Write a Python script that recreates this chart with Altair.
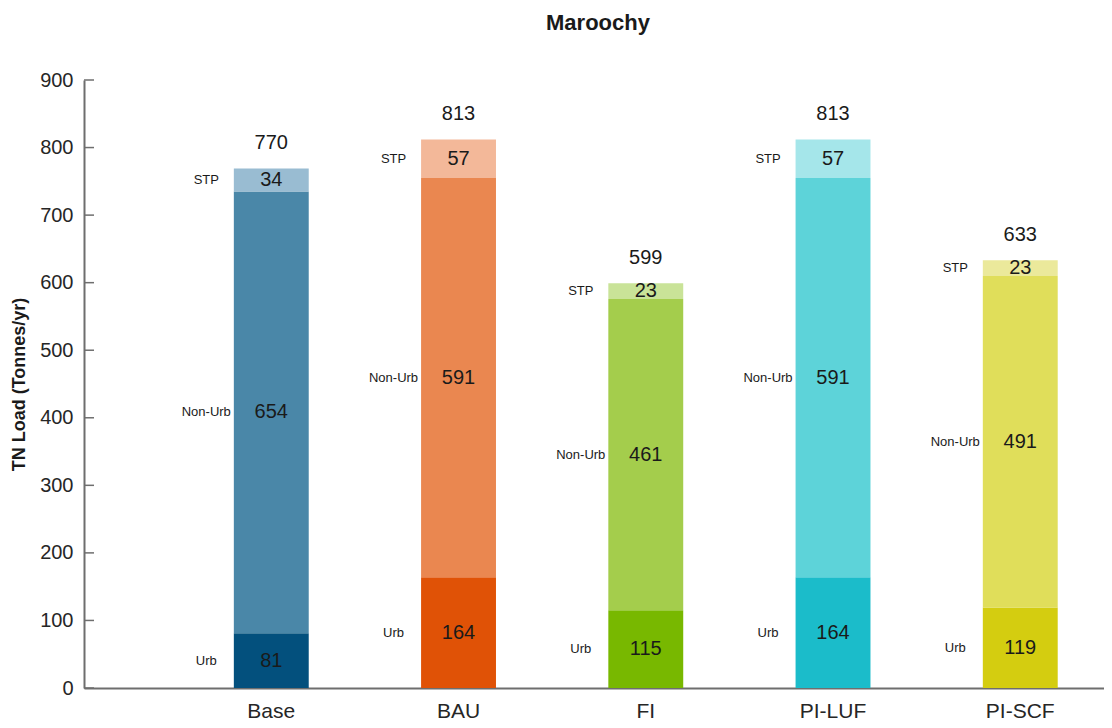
import altair as alt
import pandas as pd

# ---- data ----
scenarios = ["Base", "BAU", "FI", "PI-LUF", "PI-SCF"]
components = ["Urb", "Non-Urb", "STP"]
urb = [81, 164, 115, 164, 119]
non_urb = [654, 591, 461, 591, 491]
stp = [34, 57, 23, 57, 23]
totals = [770, 813, 599, 813, 633]
y_ticks = [0, 100, 200, 300, 400, 500, 600, 700, 800, 900]

# ---- colours (Urb, Non-Urb, STP) per scenario ----
palette = {
    "Base": ["#03507d", "#4a87a8", "#99bcd2"],
    "BAU": ["#e05206", "#ea8750", "#f3b899"],
    "FI": ["#78b800", "#a4cd4c", "#c9e398"],
    "PI-LUF": ["#1bbcca", "#5dd3d9", "#a5e6ea"],
    "PI-SCF": ["#d4cd10", "#e0de5a", "#ebe99b"],
}

rows = []
for i, s in enumerate(scenarios):
    base = 0
    for comp, vals in zip(components, [urb, non_urb, stp]):
        v = vals[i]
        rows.append(dict(scenario=s, component=comp, key=f"{s}|{comp}",
                         value=v, start=base, end=base + v, mid=base + v / 2))
        base += v
seg = pd.DataFrame(rows)
tot = pd.DataFrame(dict(scenario=scenarios, total=totals))
ticks = pd.DataFrame(dict(tick=y_ticks))

keys = [f"{s}|{c}" for s in scenarios for c in components]
cols = [palette[s][j] for s in scenarios for j in range(3)]

FONT = "Liberation Sans"
AX = "#6e6e6e"
TXT = "#1a1a1a"

xscale = alt.Scale(domain=scenarios, paddingInner=0.6, paddingOuter=0.5237, align=0.764)
yscale = alt.Scale(domain=[0, 900], nice=False)

xaxis = alt.Axis(title=None, ticks=False, labelFontSize=21, labelPadding=12, labelFont=FONT,
                 labelColor="#262626", domainColor=AX, domainWidth=2, labelAngle=0, grid=False)
yaxis = alt.Axis(title="TN Load (Tonnes/yr)", values=y_ticks, ticks=False, labelFontSize=20,
                 labelPadding=11, labelFont=FONT, labelColor="#262626", domainColor=AX,
                 domainWidth=2, grid=False, titleFont=FONT, titleFontSize=18,
                 titleFontWeight="bold", titleColor=TXT, titlePadding=11)

X = alt.X("scenario:N", sort=scenarios, scale=xscale, axis=xaxis)

bars = alt.Chart(seg).mark_bar().encode(
    x=X,
    y=alt.Y("start:Q", scale=yscale, axis=yaxis),
    y2="end:Q",
    color=alt.Color("key:N", scale=alt.Scale(domain=keys, range=cols), legend=None),
)

values = alt.Chart(seg).mark_text(font=FONT, fontSize=20, color=TXT, baseline="middle").encode(
    x=X,
    y=alt.Y("mid:Q", scale=yscale, axis=yaxis),
    text="value:Q",
)

names = alt.Chart(seg).mark_text(font=FONT, fontSize=13, color=TXT, baseline="middle",
                                 align="center", dx=-65).encode(
    x=X,
    y=alt.Y("mid:Q", scale=yscale, axis=yaxis),
    text="component:N",
)

tot_text = alt.Chart(tot).mark_text(font=FONT, fontSize=20, color=TXT, baseline="middle",
                                    dy=-25).encode(
    x=X,
    y=alt.Y("total:Q", scale=yscale, axis=yaxis),
    text="total:Q",
)

tick_marks = alt.Chart(ticks).mark_rule(color=AX, strokeWidth=1.5).encode(
    y=alt.Y("tick:Q", scale=yscale, axis=yaxis),
    x=alt.value(0),
    x2=alt.value(10),
)

chart = alt.layer(bars, tick_marks, values, names, tot_text).properties(
    width=1020,
    height=608,
    padding={"left": 76, "top": 72, "right": 0, "bottom": 32},
    autosize=alt.AutoSizeParams(type="none"),
    title=alt.TitleParams("Maroochy", font=FONT, fontSize=22, fontWeight="bold", color=TXT,
                          anchor="middle", frame="group", dx=4, offset=35),
).configure_view(stroke=None)

chart.save("out.html", embed_options={"renderer": "svg", "actions": False})
